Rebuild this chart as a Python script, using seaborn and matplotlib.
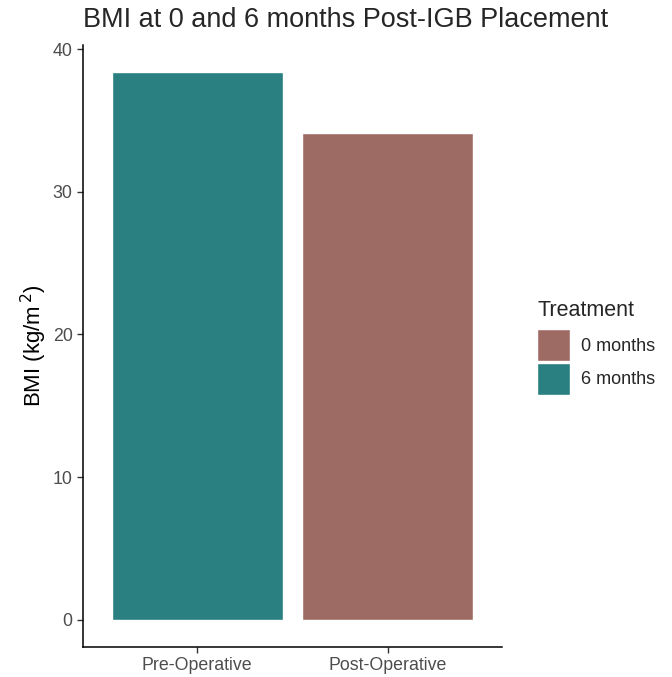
import pandas as pd
import seaborn as sns
import matplotlib.pyplot as plt
from matplotlib.patches import Patch

# values
groups = ['Pre-Operative', 'Post-Operative']
treatment = ['6 months', '0 months']
bmi = [38.4, 34.1]

legend_labels = ['0 months', '6 months']
colors = {'0 months': '#9E6A64', '6 months': '#2A8080'}

df = pd.DataFrame({'group': groups, 'Treatment': treatment, 'BMI': bmi})

sns.set_style('white')
plt.rcParams['font.family'] = ['Liberation Sans', 'DejaVu Sans']

fig = plt.figure(figsize=(6.72, 6.77), dpi=100)
ax = fig.add_axes([83 / 672, 1 - 647 / 677, (502 - 83) / 672, (647 - 45) / 677])

sns.barplot(data=df, x='group', y='BMI', hue='Treatment', palette=colors,
            order=groups, dodge=False, width=0.9, saturation=1,
            legend=False, ax=ax)

ax.set_xlim(-0.6, 1.6)
ax.set_ylim(-1.92, 40.3)
ax.set_yticks([0, 10, 20, 30, 40])
ax.set_xlabel('')
ax.set_ylabel(r'BMI (kg/m$^{\,2}$)', fontsize=16, color='black', labelpad=3)
ax.set_title('BMI at 0 and 6 months Post-IGB Placement', fontsize=19.5,
             loc='left', pad=13)

for side in ['top', 'right']:
    ax.spines[side].set_visible(False)
for side in ['left', 'bottom']:
    ax.spines[side].set_color('black')
    ax.spines[side].set_linewidth(1.1)
ax.tick_params(axis='both', which='both', length=4, width=1, color='#333333',
               labelsize=12.8, labelcolor='#4D4D4D', left=True, bottom=True)

handles = [Patch(facecolor=colors[l], edgecolor='white', linewidth=1, label=l)
           for l in legend_labels]
leg = fig.legend(handles=handles, title='Treatment', loc='upper left',
                 bbox_to_anchor=(537 / 672, 1 - 300 / 677), frameon=False,
                 borderpad=0, borderaxespad=0, fontsize=13, title_fontsize=15.5,
                 handlelength=1.85, handleheight=2.35, handletextpad=0.6,
                 labelspacing=0.08, alignment='left')
# a bit more room between the legend title and the keys
leg._legend_box.sep = 6

plt.savefig('out.png', dpi=100)
